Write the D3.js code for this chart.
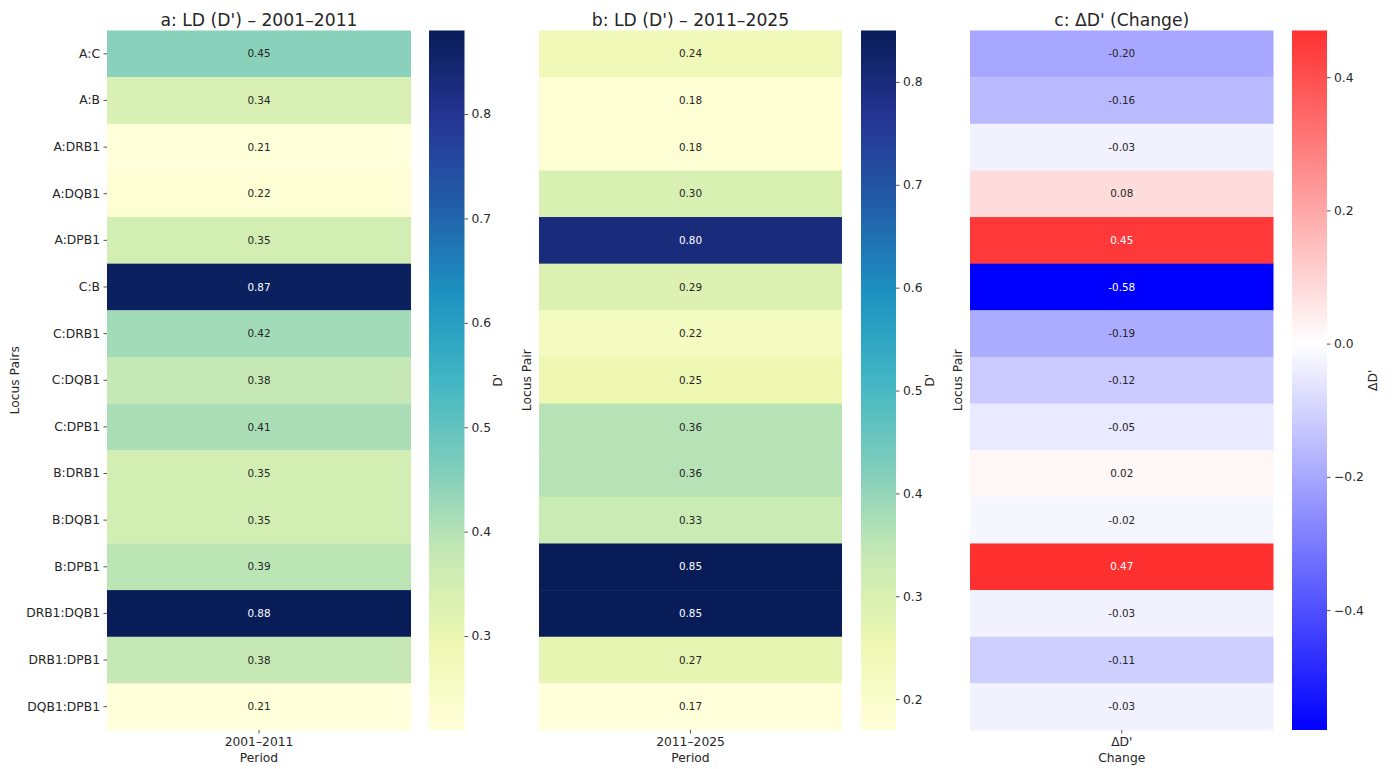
<!DOCTYPE html>
<html>
<head>
<meta charset="utf-8">
<script src="https://cdn.jsdelivr.net/npm/d3@7"></script>
<style>
  html, body { margin: 0; padding: 0; background: #fff; }
  svg { display: block; font-family: "DejaVu Sans", sans-serif; }
</style>
</head>
<body>
<svg id="chart" width="1392" height="769"></svg>
<script>
// Locus pairs (rows) and the per-period D' values
const pairs = ["A:C", "A:B", "A:DRB1", "A:DQB1", "A:DPB1", "C:B", "C:DRB1", "C:DQB1",
  "C:DPB1", "B:DRB1", "B:DQB1", "B:DPB1", "DRB1:DQB1", "DRB1:DPB1", "DQB1:DPB1"];
const ld2001 = [0.45, 0.34, 0.21, 0.22, 0.35, 0.87, 0.42, 0.38, 0.41, 0.35, 0.35, 0.39, 0.88, 0.38, 0.21];
const ld2011 = [0.24, 0.18, 0.18, 0.30, 0.80, 0.29, 0.22, 0.25, 0.36, 0.36, 0.33, 0.85, 0.85, 0.27, 0.17];
const deltaD = [-0.20, -0.16, -0.03, 0.08, 0.45, -0.58, -0.19, -0.12, -0.05, 0.02, -0.02, 0.47, -0.03, -0.11, -0.03];

const titles = ["a: LD (D') \u2013 2001\u20132011", "b: LD (D') \u2013 2011\u20132025", "c: \u0394D' (Change)"];
const columnLabels = ["2001\u20132011", "2011\u20132025", "\u0394D'"];
const xAxisLabels = ["Period", "Period", "Change"];
const yAxisLabels = ["Locus Pairs", "Locus Pair", "Locus Pair"];
const colorbarLabels = ["D'", "D'", "\u0394D'"];

// Colour maps
const ylgnbuStops = ["#ffffd9", "#edf8b1", "#c7e9b4", "#7fcdbb", "#41b6c4", "#1d91c0", "#225ea8", "#253494", "#081d58"];
const ylgnbu = d3.scaleLinear()
  .domain(ylgnbuStops.map((_, i) => i / (ylgnbuStops.length - 1)))
  .range(ylgnbuStops)
  .interpolate(d3.interpolateRgb)
  .clamp(true);
const bwr = d3.scaleLinear().domain([0, 0.5, 1]).range(["#0000ff", "#ffffff", "#ff0000"])
  .interpolate(d3.interpolateRgb).clamp(true);

function makeSequential(values) {
  const [lo, hi] = d3.extent(values);
  const t = d3.scaleLinear().domain([lo, hi]).range([0, 1]);
  return { domain: [lo, hi], color: v => ylgnbu(t(v)) };
}
function makeDiverging(values, center) {
  const [lo, hi] = d3.extent(values);
  const r = Math.max(hi - center, center - lo);
  const t = d3.scaleLinear().domain([center - r, center + r]).range([0, 1]);
  return { domain: [lo, hi], color: v => bwr(t(v)) };
}

function luminance(c) {
  const rgb = d3.rgb(c);
  const f = x => { x /= 255; return x <= 0.03928 ? x / 12.92 : Math.pow((x + 0.055) / 1.055, 2.4); };
  return 0.2126 * f(rgb.r) + 0.7152 * f(rgb.g) + 0.0722 * f(rgb.b);
}

const svg = d3.select("#chart");
const defs = svg.append("defs");
const textColor = "#262626";
const tickFont = 12.3;

const plotTop = 30.5, plotBottom = 730;
const y = d3.scaleBand().domain(pairs).range([plotTop, plotBottom]).paddingInner(0);

const panels = [
  { values: ld2001, map: makeSequential(ld2001), x0: 107, x1: 411, cb0: 429, cbW: 35.5,
    yLabelX: 19, cbLabelX: 502, showRows: true, fmt: d3.format(".1f") },
  { values: ld2011, map: makeSequential(ld2011), x0: 539, x1: 842, cb0: 861, cbW: 35,
    yLabelX: 531, cbLabelX: 934, showRows: false, fmt: d3.format(".1f") },
  { values: deltaD, map: makeDiverging(deltaD, 0), x0: 970, x1: 1273.5, cb0: 1292, cbW: 35,
    yLabelX: 962, cbLabelX: 1377, showRows: false, fmt: d3.format(".1f") }
];

panels.forEach((p, i) => {
  const g = svg.append("g");
  const x = d3.scaleBand().domain([columnLabels[i]]).range([p.x0, p.x1]);

  // Cells
  g.selectAll("rect.cell").data(pairs).join("rect")
    .attr("class", "cell")
    .attr("x", x(columnLabels[i]))
    .attr("y", d => y(d))
    .attr("width", x.bandwidth())
    .attr("height", y.bandwidth() + 0.3)
    .attr("fill", (d, k) => p.map.color(p.values[k]));

  // Annotations
  g.selectAll("text.annot").data(pairs).join("text")
    .attr("class", "annot")
    .attr("x", x(columnLabels[i]) + x.bandwidth() / 2)
    .attr("y", d => y(d) + y.bandwidth() / 2)
    .attr("dy", "0.35em")
    .attr("text-anchor", "middle")
    .attr("font-size", 10.4)
    .attr("fill", (d, k) => luminance(p.map.color(p.values[k])) > 0.408 ? textColor : "#ffffff")
    .text((d, k) => p.values[k].toFixed(2));

  // Title
  g.append("text")
    .attr("x", (p.x0 + p.x1) / 2).attr("y", 25.5)
    .attr("text-anchor", "middle")
    .attr("font-size", 17.2)
    .attr("fill", textColor)
    .text(titles[i]);

  // Row axis
  const yAxis = d3.axisLeft(y).tickSize(3.5).tickPadding(3.5);
  if (!p.showRows) yAxis.tickValues([]);
  const ya = g.append("g").attr("transform", `translate(${p.x0},0)`).call(yAxis);
  ya.select(".domain").remove();
  ya.selectAll("line").attr("stroke", textColor).attr("stroke-width", 0.8);
  ya.selectAll("text").attr("font-size", tickFont).attr("fill", textColor).attr("font-family", "DejaVu Sans");

  // Column axis
  const xa = g.append("g").attr("transform", `translate(0,${plotBottom})`)
    .call(d3.axisBottom(x).tickSize(3.5).tickPadding(3.5));
  xa.select(".domain").remove();
  xa.selectAll("line").attr("stroke", textColor).attr("stroke-width", 0.8);
  xa.selectAll("text").attr("font-size", tickFont).attr("fill", textColor).attr("font-family", "DejaVu Sans");

  g.append("text")
    .attr("x", (p.x0 + p.x1) / 2).attr("y", 761.5)
    .attr("text-anchor", "middle")
    .attr("font-size", tickFont).attr("fill", textColor)
    .text(xAxisLabels[i]);

  g.append("text")
    .attr("transform", `translate(${p.yLabelX},${(plotTop + plotBottom) / 2}) rotate(-90)`)
    .attr("text-anchor", "middle")
    .attr("font-size", tickFont).attr("fill", textColor)
    .text(yAxisLabels[i]);

  // Colorbar
  const cbScale = d3.scaleLinear().domain(p.map.domain).range([plotBottom, plotTop]);
  const gradId = "cb-grad-" + i;
  const grad = defs.append("linearGradient").attr("id", gradId)
    .attr("x1", 0).attr("y1", 1).attr("x2", 0).attr("y2", 0);
  const nStops = 128;
  d3.range(nStops + 1).forEach(s => {
    const v = p.map.domain[0] + (p.map.domain[1] - p.map.domain[0]) * s / nStops;
    grad.append("stop").attr("offset", s / nStops).attr("stop-color", p.map.color(v));
  });
  g.append("rect")
    .attr("x", p.cb0).attr("y", plotTop)
    .attr("width", p.cbW).attr("height", plotBottom - plotTop)
    .attr("fill", `url(#${gradId})`);

  const cbAxis = g.append("g").attr("transform", `translate(${p.cb0 + p.cbW},0)`)
    .call(d3.axisRight(cbScale).ticks(6).tickFormat(p.fmt).tickSize(3.5).tickPadding(3.5));
  cbAxis.select(".domain").remove();
  cbAxis.selectAll("line").attr("stroke", textColor).attr("stroke-width", 0.8);
  cbAxis.selectAll("text").attr("font-size", tickFont).attr("fill", textColor).attr("font-family", "DejaVu Sans");

  g.append("text")
    .attr("transform", `translate(${p.cbLabelX},${(plotTop + plotBottom) / 2}) rotate(-90)`)
    .attr("text-anchor", "middle")
    .attr("font-size", tickFont).attr("fill", textColor)
    .text(colorbarLabels[i]);
});
</script>
</body>
</html>
